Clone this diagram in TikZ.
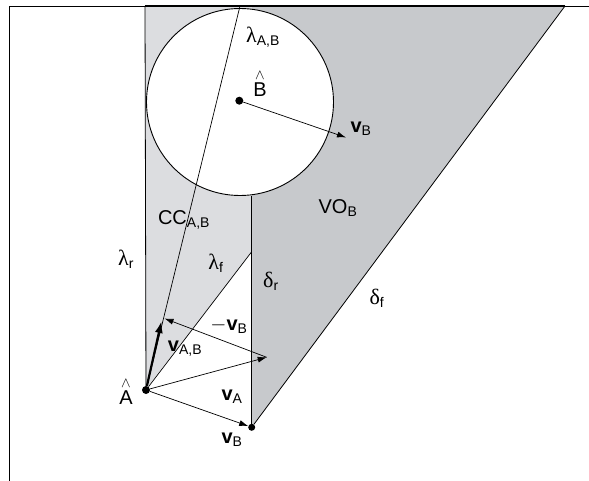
\documentclass[tikz,border=0pt]{standalone}
\usepackage{fontspec}
\setmainfont{Liberation Sans}
\newfontfamily\grk{Liberation Serif}
\usepackage{amsmath}
\usetikzlibrary{arrows.meta}
\definecolor{ccgray}{RGB}{220,221,224}
\definecolor{vogray}{RGB}{199,201,204}
\newcommand{\vel}[1]{\textbf{v}$_\text{#1}$}
\newcommand{\grsub}[2]{{\grk\fontsize{22}{24}\selectfont #1}$_\text{#2}$}
\newcommand{\pt}[1]{$\overset{\wedge}{\text{#1}}$}

\begin{document}
\begin{tikzpicture}[x=1pt,y=-1pt,font=\fontsize{20}{23}\selectfont,
  dot/.style={circle,fill,inner sep=0pt,minimum size=8pt},
  vec/.style={-{Latex[length=9pt,width=6pt]},line width=0.7pt},
  bigvec/.style={-{Latex[length=12pt,width=8pt]},line width=2.2pt}]
  \useasboundingbox (0,0) rectangle (589,481);

  % Regions
  \fill[ccgray] (145,6) -- (145,390) -- (251.7,251.7) -- (251.7,6) -- cycle;
  \fill[vogray] (251.7,6) -- (251.7,427.3) -- (565,6) -- cycle;

  % Nodes
  \coordinate (lamrtop) at (145,6);
  \coordinate (deltop) at (565,6);
  \coordinate (lamABtop) at (240,6);
  \coordinate (lamfend) at (251.7,251.7);
  \coordinate (vAtip) at (266.7,357.3);
  \coordinate (vABtip) at (161.5,321);
  \coordinate (negtip) at (164.5,318.5);
  \coordinate (vBtip) at (346,137.5);
  \node (Bdisc) at (240,102) [circle, draw, fill=white, line width=0.9pt, minimum size=187pt, inner sep=0pt] {};
  \node (A) at (146,390) [dot] {};
  \node (Bc) at (239.3,100.7) [dot] {};
  \node (vB) at (251.7,427.3) [dot, minimum size=7pt] {};

  % Edges
  \draw[line width=0.8pt] (9,481) -- (9,6) -- (589,6);
  \draw[line width=1.6pt] (lamrtop) -- (deltop);
  \draw[line width=0.8pt] (lamrtop) -- (A);
  \draw[line width=0.7pt] (A) -- (lamABtop);
  \draw[line width=0.7pt] (A) -- (lamfend);
  \draw[line width=0.8pt] (vB |- Bdisc.south) -- (vB);
  \draw[line width=0.8pt] (vB) -- (deltop);
  \draw[vec] (Bc) -- (vBtip);
  \draw[vec] (A) -- (vB);
  \draw[vec] (A) -- (vAtip);
  \draw[vec] (vAtip) -- (negtip);
  \draw[bigvec] (A) -- (vABtip);

  % Labels
  \node (lamAB) at (263,37) {\grsub{λ}{A,B}};
  \node (Bhat) at (260,83) {\pt{B}};
  \node (vBlab) at (361,129) {\vel{B}};
  \node (VO) at (338,208) {VO$_\text{B}$};
  \node (CC) at (184,220) {CC$_\text{A,B}$};
  \node (lamr) at (126,259) {\grsub{λ}{r}};
  \node (lamf) at (216,263) {\grsub{λ}{f}};
  \node (delr) at (271,281) {\grsub{δ}{r}};
  \node (delf) at (377,298) {\grsub{δ}{f}};
  \node (negvB) at (229,326) {$-$\vel{B}};
  \node (vABlab) at (185,349) {\vel{A,B}};
  \node (vAlab) at (232,397) {\vel{A}};
  \node (vBbot) at (232,440) {\vel{B}};
  \node (Ahat) at (126,391) {\pt{A}};
\end{tikzpicture}
\end{document}
